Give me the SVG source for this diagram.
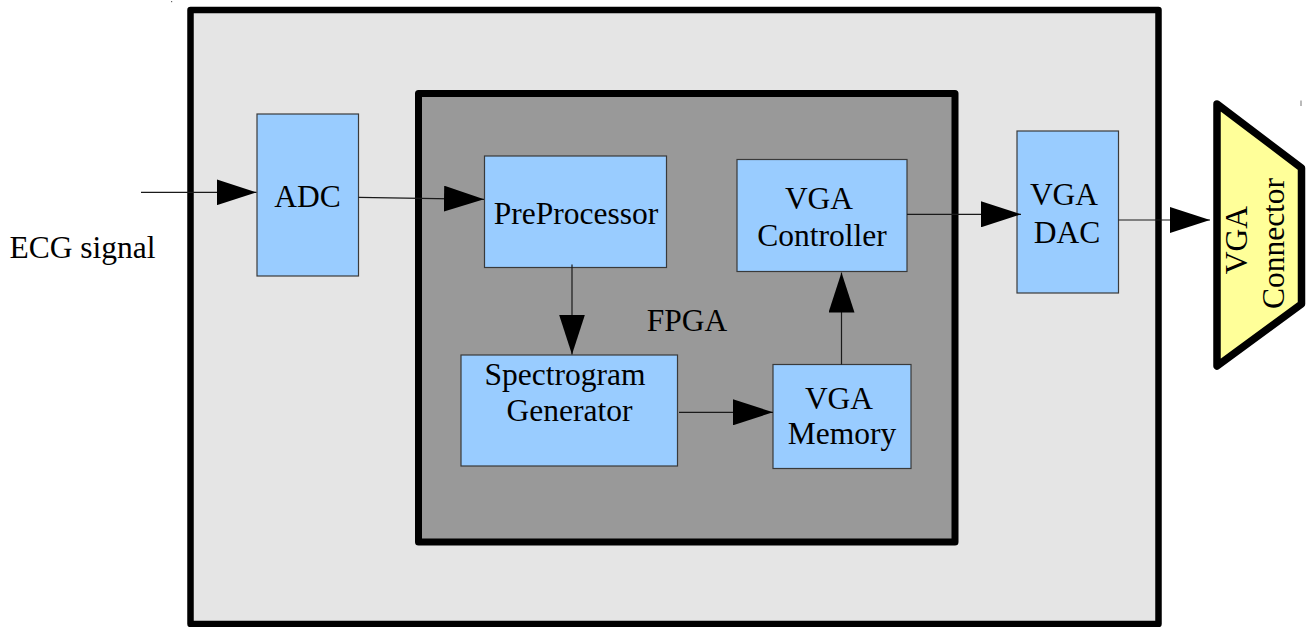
<svg xmlns="http://www.w3.org/2000/svg" width="1306" height="627" viewBox="0 0 1306 627">
  <style>
    .lbl { font-size: 31.5px; fill: #000; text-anchor: middle; }
    .block { fill: #99ccff; stroke: #3a3a3a; stroke-width: 1.2; }
    .wire { fill: none; stroke: #1a1a1a; stroke-width: 1.2; marker-end: url(#head); }
  </style>
  <defs>
    <marker id="head" markerUnits="userSpaceOnUse" markerWidth="40" markerHeight="26" refX="40" refY="13" orient="auto">
      <path d="M0,0 L40,13 L0,26 Z" fill="#000"/>
    </marker>
  </defs>

  <rect width="1306" height="627" fill="#fff"/>

  <!-- stray marks -->
  <rect x="171" y="1" width="1.2" height="1.2" fill="#666"/>
  <rect x="1300.5" y="100.5" width="1" height="5.5" fill="#777"/>

  <g font-family="Liberation Serif, DejaVu Serif, serif">
  <!-- board -->
  <g id="board">
    <rect x="190.5" y="10" width="968" height="614" fill="#e5e5e5" stroke="#000" stroke-width="6.5" stroke-linejoin="round"/>
  </g>

  <!-- FPGA -->
  <g id="fpga">
    <rect x="418.5" y="93.5" width="536.5" height="448.5" fill="#999999" stroke="#000" stroke-width="7" stroke-linejoin="round"/>
    <text class="lbl" x="687" y="331">FPGA</text>
  </g>

  <g id="ecg-signal">
    <text class="lbl" x="82.5" y="257.5">ECG signal</text>
  </g>

  <g id="adc">
    <rect class="block" x="257" y="114" width="101.5" height="162"/>
    <text class="lbl" x="307.5" y="207">ADC</text>
  </g>

  <g id="preprocessor">
    <rect class="block" x="484.5" y="156" width="182" height="111.5"/>
    <text class="lbl" x="576" y="223.5">PreProcessor</text>
  </g>

  <g id="spectrogram-generator">
    <rect class="block" x="461" y="355" width="216.5" height="111"/>
    <text class="lbl" x="565" y="384.5">Spectrogram</text>
    <text class="lbl" x="569.5" y="421">Generator</text>
  </g>

  <g id="vga-memory">
    <rect class="block" x="773" y="364.5" width="138" height="104"/>
    <text class="lbl" x="839" y="408.5">VGA</text>
    <text class="lbl" x="842" y="444">Memory</text>
  </g>

  <g id="vga-controller">
    <rect class="block" x="737" y="159.5" width="170" height="112"/>
    <text class="lbl" x="819" y="209">VGA</text>
    <text class="lbl" x="822" y="246">Controller</text>
  </g>

  <g id="vga-dac">
    <rect class="block" x="1017" y="131" width="101.5" height="162"/>
    <text class="lbl" x="1064" y="205">VGA</text>
    <text class="lbl" x="1067" y="242.5">DAC</text>
  </g>

  <g id="vga-connector">
    <polygon points="1217,104 1301.5,168 1301.5,304 1217,366" fill="#ffff99" stroke="#000" stroke-width="7.5" stroke-linejoin="round"/>
    <text class="lbl" transform="translate(1247,240) rotate(-90)">VGA</text>
    <text class="lbl" transform="translate(1284,243.5) rotate(-90)">Connector</text>
  </g>
  </g>

  <g id="connectors">
    <line class="wire" x1="141" y1="192.3" x2="256.5" y2="192.3"/>
    <line class="wire" x1="358.5" y1="197.3" x2="484" y2="199.3"/>
    <line class="wire" x1="572" y1="264.5" x2="572" y2="354.5"/>
    <line class="wire" x1="679" y1="412.3" x2="773" y2="412.3"/>
    <line class="wire" x1="841.5" y1="364.5" x2="841.5" y2="272.5"/>
    <line class="wire" x1="907" y1="214.3" x2="1021" y2="214.3"/>
    <line class="wire" x1="1118.5" y1="220" x2="1210" y2="220"/>
  </g>
</svg>
